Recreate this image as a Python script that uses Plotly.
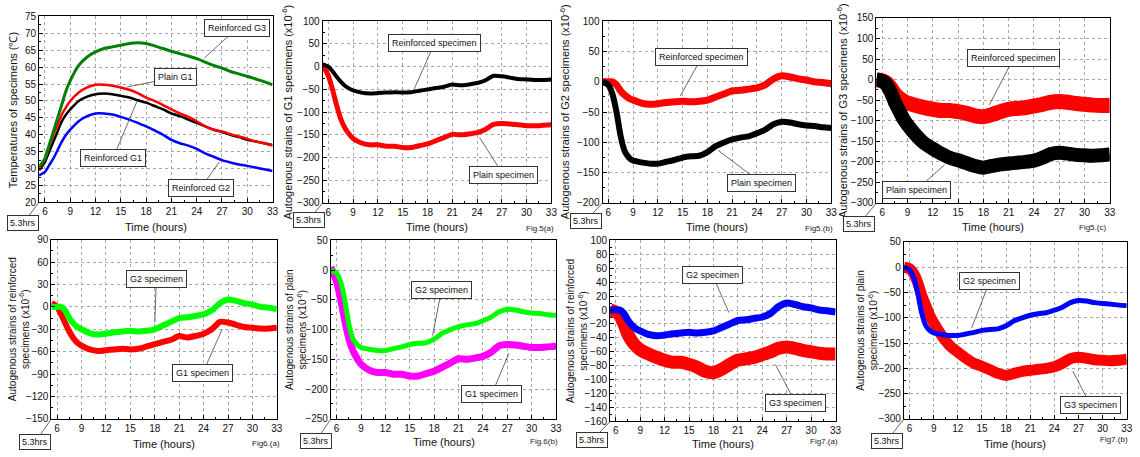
import plotly.graph_objects as go

W, H = 1140, 457
FONT = "Liberation Sans, Arial, sans-serif"

# ---------------- data ----------------
time_h = [5.3, 6, 6.5, 7, 7.5, 8, 8.5, 9, 10, 11, 12, 13, 14, 15, 16, 17, 18,
          19, 20, 21, 22, 23, 24, 25, 26, 27, 28, 29, 30, 31, 32, 33]

# temperatures (deg C)
temp_reinforced_g3 = [30.5, 33, 37, 41, 45, 49, 53, 56, 60.5, 63, 64.5, 65.5, 66, 66.5, 67, 67.2, 67,
                      66.3, 65.5, 64.7, 64, 63.3, 62.5, 61.5, 60.5, 59.7, 58.7, 58, 57.3, 56.5, 55.7, 54.8]
temp_plain_g1 = [30, 33, 36.5, 40, 43, 46, 48.2, 50, 52.5, 54, 54.8, 54.8, 54.5, 54, 53.3, 52.3, 51,
                 50, 48.8, 47.5, 46.3, 45.3, 44, 42.5, 41.5, 41, 40.2, 39.5, 38.8, 38, 37.5, 36.8]
temp_reinforced_g1 = [29.5, 32, 35, 38, 41, 44, 46, 47.5, 50, 51.3, 52, 52.2, 52, 51.5, 51, 50.2, 49.5,
                      48.5, 47.5, 46.3, 45.5, 44.5, 43.5, 42.5, 41.5, 40.8, 40, 39.3, 38.5, 38, 37.5, 37]
temp_reinforced_g2 = [28, 29, 31, 33, 35.5, 38, 40, 41.5, 44, 45.5, 46.3, 46.3, 46, 45.3, 44.5, 43.5, 42.5,
                      41.3, 40, 38.5, 37.5, 36.8, 35.8, 34.5, 33.5, 32.5, 31.8, 31.2, 30.8, 30.3, 29.8, 29.3]

# autogenous strains (x10^-6)
strain_g1_reinforced = [5, 0, -10, -22, -33, -42, -48, -52, -57, -59, -58, -57, -56, -57, -56, -53, -50,
                        -47, -44, -39, -41, -39, -36, -30, -20, -21, -24, -27, -28, -29, -29, -28]
strain_g1_plain = [5, -20, -50, -85, -115, -135, -148, -158, -168, -172, -172, -175, -175, -178, -178, -174, -170,
                   -163, -156, -149, -150, -148, -145, -138, -127, -125, -126, -128, -130, -130, -129, -128]
strain_g2_reinforced = [0, 0, 0, -5, -15, -22, -27, -30, -35, -37, -36, -34, -33, -32, -33, -32, -30,
                        -25, -20, -15, -14, -12, -10, -5, 5, 10, 8, 5, 3, 0, -1, -3]
strain_g2_plain = [0, -5, -20, -50, -90, -115, -125, -130, -133, -135, -135, -132, -129, -125, -123, -122, -116,
                   -106, -100, -95, -92, -90, -85, -79, -70, -66, -67, -70, -72, -73, -75, -76]
strain_g3_reinforced = [0, -3, -8, -20, -35, -45, -52, -57, -63, -68, -72, -75, -75, -78, -82, -88, -90,
                        -85, -78, -72, -70, -68, -64, -60, -55, -53, -55, -58, -60, -62, -63, -63]
strain_g3_plain = [0, -3, -12, -30, -55, -75, -95, -110, -135, -155, -168, -180, -190, -196, -203, -210, -214,
                   -210, -206, -204, -202, -200, -197, -190, -181, -178, -180, -183, -184, -185, -184, -182]

x_ticks = [6, 9, 12, 15, 18, 21, 24, 27, 30, 33]
x_range = [5.3, 33]

G1S = "(x10<sup>-6</sup>)"

# ---------------- panel layout (pixel boxes: left, top, right, bottom) ----------------
panels = [
    dict(box=(39.3, 10.7, 274, 201.7), yr=[20, 75], dt=5,
         ytitle="Temperatures of specimens (\u2103)", ytx=13, yts=11,
         traces=[(temp_reinforced_g2, "#0000ff", 2.5), (temp_reinforced_g1, "#000000", 2.5),
                 (temp_plain_g1, "#ff0000", 2.5), (temp_reinforced_g3, "#008000", 3)],
         labels=[("Reinforced G3", 28.8, 71.5, 24.9, 62.7), ("Plain G1", 21.45, 57, 15.7, 54.1),
                 ("Reinforced G1", 14.1, 33.2, 16.9, 49.8), ("Reinforced G2", 24.5, 24.3, 26.7, 32)],
         fig=None, hrs=(-16, 21), timey=227),
    dict(box=(324.3, 15.7, 554.3, 202.3), yr=[-300, 100], dt=50,
         ytitle="Autogenous strains of G1 specimens " + G1S, ytx=289, yts=11,
         traces=[(strain_g1_plain, "#ff0000", 5), (strain_g1_reinforced, "#000000", 4)],
         labels=[("Reinforced specimen", 18.85, 51.4, 16.4, -48.6), ("Plain specimen", 27.2, -238.6, 24.3, -155.7)],
         fig=("Fig.5(a)", 543, 228), hrs=(-14, 17), timey=227),
    dict(box=(605.7, 15.7, 835.7, 202.3), yr=[-200, 100], dt=50,
         ytitle="Autogenous strains of G2 specimens " + G1S, ytx=568, yts=11,
         traces=[(strain_g2_reinforced, "#ff0000", 7), (strain_g2_plain, "#000000", 6)],
         labels=[("Reinforced specimen", 17.3, 40.5, 14.7, -23.7), ("Plain specimen", 24.5, -166.7, 19.3, -113)],
         fig=("Fig5.(b)", 823, 228), hrs=(-17, 18), timey=227),
    dict(box=(881, 12.3, 1115.7, 202.3), yr=[-300, 150], dt=50,
         ytitle="Autogenous strains of G3 specimens " + G1S, ytx=847, yts=11,
         traces=[(strain_g3_reinforced, "#ff0000", 15), (strain_g3_plain, "#000000", 14)],
         labels=[("Reinforced specimen", 21.6, 52.9, 18.7, -61.6), ("Plain specimen", 10.06, -268, 13.4, -207)],
         fig=("Fig5.(c)", 1098, 227), hrs=(-17, 21), timey=227),
    dict(box=(51.7, 240, 278.3, 424), yr=[-150, 90], dt=30,
         ytitle="Autogenous strains of reinforced<br>specimens " + G1S, ytx=19, yts=10,
         traces=[(strain_g1_reinforced, "#ff0000", 6), (strain_g2_reinforced, "#00ff00", 6)],
         labels=[("G2 specimen", 18.2, 37.8, 18.0, -20.9), ("G1 specimen", 23.9, -88.3, 26.3, -29.6)],
         fig=("Fig6.(a)", 267, 449), hrs=(-16, 23), timey=450),
    dict(box=(332.7, 240.7, 559, 424), yr=[-250, 50], dt=50,
         ytitle="Autogenous strains of plain<br>specimens " + G1S, ytx=297, yts=10,
         traces=[(strain_g1_plain, "#ff00ff", 7), (strain_g2_plain, "#00ff00", 5)],
         labels=[("G2 specimen", 18.9, -33.8, 17.8, -110), ("G1 specimen", 25.1, -208, 27.2, -140)],
         fig=("Fig.6(b)", 547, 447), hrs=(-15, 22), timey=448),
    dict(box=(613.3, 240.7, 840, 426.7), yr=[-160, 100], dt=20,
         ytitle="Autogenous strains of reinforced<br>specimens " + G1S, ytx=580, yts=10,
         traces=[(strain_g3_reinforced, "#ff0000", 13), (strain_g2_reinforced, "#0000ff", 7)],
         labels=[("G2 specimen", 17.9, 49.9, 19.9, -3.7), ("G3 specimen", 28.1, -134, 25.6, -78)],
         fig=("Fig7.(a)", 828, 447), hrs=(-18, 19), timey=450),
    dict(box=(908.7, 242.3, 1132.7, 424), yr=[-300, 50], dt=50,
         ytitle="Autogenous strains of plain<br>specimens " + G1S, ytx=872, yts=10,
         traces=[(strain_g3_plain, "#ff0000", 11), (strain_g2_plain, "#0000ff", 5)],
         labels=[("G2 specimen", 16.0, -27, 13.7, -120.7), ("G3 specimen", 28.5, -273, 26.3, -205.5)],
         fig=("Fig7.(b)", 1120, 445), hrs=(-17, 22), timey=450),
]


def px(x):
    return x / W


def py(y):
    return 1 - y / H


fig = go.Figure()
annotations = []
layout = dict(width=W, height=H, margin=dict(l=0, r=0, t=0, b=0),
              paper_bgcolor="white", plot_bgcolor="white", showlegend=False,
              font=dict(family=FONT, size=10, color="#111"))

for i, p in enumerate(panels, start=1):
    xa = "x" if i == 1 else f"x{i}"
    ya = "y" if i == 1 else f"y{i}"
    l, t, r, b = p["box"]
    common = dict(showline=True, mirror=True, linecolor="black", linewidth=1,
                  ticks="inside", ticklen=4, tickcolor="black",
                  tickfont=dict(size=10, family=FONT, color="#111"),
                  showgrid=True, gridcolor="#a8a8a8", griddash="dot", gridwidth=1,
                  zeroline=False)
    layout["xaxis" if i == 1 else f"xaxis{i}"] = dict(
        common, domain=[px(l), px(r)], anchor=ya, range=x_range,
        tickmode="array", tickvals=x_ticks,
        minor=dict(ticks="inside", ticklen=2, tickcolor="black", tick0=4.5, dtick=1.5, showgrid=False))
    layout["yaxis" if i == 1 else f"yaxis{i}"] = dict(
        common, domain=[py(b), py(t)], anchor=xa, range=p["yr"],
        tickmode="linear", tick0=p["yr"][0], dtick=p["dt"],
        minor=dict(ticks="inside", ticklen=2, tickcolor="black", tick0=p["yr"][0], dtick=p["dt"] / 2,
                   showgrid=False))

    for vals, col, wdt in p["traces"]:
        fig.add_trace(go.Scatter(x=time_h, y=vals, mode="lines", xaxis=xa, yaxis=ya,
                                 line=dict(color=col, width=wdt, shape="spline", smoothing=0.6),
                                 hoverinfo="skip"))

    for text, bx, by, tx, ty in p["labels"]:
        annotations.append(dict(text=text, x=tx, y=ty, ax=bx, ay=by, xref=xa, yref=ya,
                                axref=xa, ayref=ya, showarrow=True, arrowhead=0, arrowwidth=0.8,
                                arrowcolor="#444", bgcolor="white", bordercolor="#333",
                                borderwidth=1, borderpad=3,
                                font=dict(size=9, family=FONT, color="#111")))

    # y title
    annotations.append(dict(text=p["ytitle"], x=px(p["ytx"]), y=py((t + b) / 2), xref="paper",
                            yref="paper", showarrow=False, textangle=-90, xanchor="center",
                            yanchor="middle", font=dict(size=p["yts"], family=FONT, color="#111")))
    # x title
    annotations.append(dict(text="Time (hours)", x=px((l + r) / 2), y=py(p["timey"]), xref="paper",
                            yref="paper", showarrow=False, xanchor="center", yanchor="middle",
                            font=dict(size=11, family=FONT, color="#111")))
    # 5.3hrs marker
    annotations.append(dict(text="5.3hrs", x=px(l), y=py(b), xref="paper", yref="paper",
                            ax=p["hrs"][0], ay=p["hrs"][1], showarrow=True, arrowhead=0,
                            arrowwidth=0.8, arrowcolor="#444", bgcolor="white", bordercolor="#333",
                            borderwidth=1, borderpad=2,
                            font=dict(size=9, family=FONT, color="#111")))
    if p["fig"]:
        ftxt, fx, fy = p["fig"]
        annotations.append(dict(text=ftxt, x=px(fx), y=py(fy), xref="paper", yref="paper",
                                showarrow=False, xanchor="center", yanchor="middle",
                                font=dict(size=8, family=FONT, color="#222")))

layout["annotations"] = annotations
fig.update_layout(**layout)
fig.write_html("out.html", config={"displayModeBar": False},
               post_script="document.body.style.margin='0';document.body.style.overflow='hidden';")
